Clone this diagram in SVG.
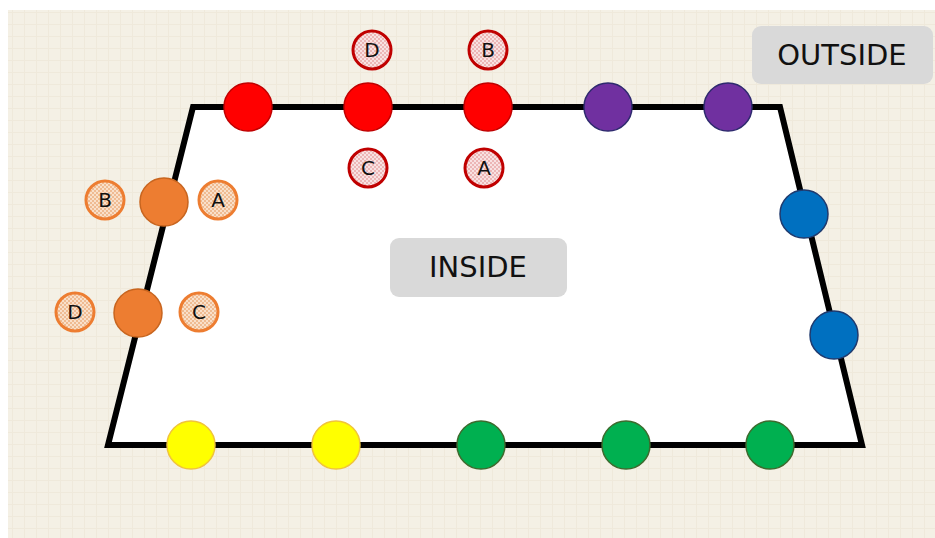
<svg xmlns="http://www.w3.org/2000/svg" width="935" height="538" viewBox="0 0 935 538">
  <defs>
    <!-- faint squared paper -->
    <pattern id="paper" width="12" height="12" patternUnits="userSpaceOnUse">
      <rect width="12" height="12" fill="#f4f0e5"/>
      <path d="M0 0.5H12M0.5 0V12" stroke="#efe9db" stroke-width="1"/>
    </pattern>
    <!-- checkered fills for the lettered markers -->
    <pattern id="checkRed" width="4" height="4" patternUnits="userSpaceOnUse">
      <rect width="4" height="4" fill="#f8e2e2"/>
      <rect width="2" height="2" fill="#ecb6b6"/>
      <rect x="2" y="2" width="2" height="2" fill="#ecb6b6"/>
    </pattern>
    <pattern id="checkOrange" width="4" height="4" patternUnits="userSpaceOnUse">
      <rect width="4" height="4" fill="#f9e0ca"/>
      <rect width="2" height="2" fill="#efbb92"/>
      <rect x="2" y="2" width="2" height="2" fill="#efbb92"/>
    </pattern>
  </defs>
  <style>
    text { font-family: "DejaVu Sans", "Liberation Sans", sans-serif; fill: #111; text-anchor: middle; dominant-baseline: central; }
    .label { font-size: 29px; }
    .tag { font-size: 20px; }
    .box { fill: #d9d9d9; }
    .red { fill: #ff0000; stroke: #c00000; stroke-width: 1.5; }
    .purple { fill: #7030a0; stroke: #2e2a6e; stroke-width: 1.5; }
    .blue { fill: #0070c0; stroke: #1f3a6e; stroke-width: 1.5; }
    .orange { fill: #ed7d31; stroke: #c8651f; stroke-width: 1.5; }
    .yellow { fill: #ffff00; stroke: #f0c43a; stroke-width: 1.5; }
    .green { fill: #00b050; stroke: #3d6b2e; stroke-width: 1.5; }
    .tagRed { fill: url(#checkRed); stroke: #c00000; stroke-width: 3; }
    .tagOrange { fill: url(#checkOrange); stroke: #ed7d31; stroke-width: 3; }
  </style>

  <!-- page -->
  <rect width="935" height="538" fill="#ffffff"/>
  <rect x="8" y="10" width="927" height="528" fill="url(#paper)"/>

  <!-- room outline -->
  <polygon points="193,107 780,107 862,445 108,445" fill="#ffffff" stroke="#000000" stroke-width="6" stroke-linejoin="miter"/>

  <g id="outside">
    <rect class="box" x="752" y="26" width="181" height="58" rx="9"/>
    <text class="label" x="842" y="55">OUTSIDE</text>
  </g>
  <g id="inside">
    <rect class="box" x="390" y="238" width="177" height="59" rx="9"/>
    <text class="label" x="478" y="267">INSIDE</text>
  </g>

  <!-- top wall -->
  <g id="red1"><circle class="red" cx="248" cy="107" r="24"/></g>
  <g id="red2"><circle class="red" cx="368" cy="107" r="24"/></g>
  <g id="red3"><circle class="red" cx="488" cy="107" r="24"/></g>
  <g id="purple1"><circle class="purple" cx="608" cy="107" r="24"/></g>
  <g id="purple2"><circle class="purple" cx="728" cy="107" r="24"/></g>

  <!-- right wall -->
  <g id="blue1"><circle class="blue" cx="804" cy="214" r="24"/></g>
  <g id="blue2"><circle class="blue" cx="834" cy="335" r="24"/></g>

  <!-- left wall -->
  <g id="orange1"><circle class="orange" cx="164" cy="202" r="24"/></g>
  <g id="orange2"><circle class="orange" cx="138" cy="313" r="24"/></g>

  <!-- bottom wall -->
  <g id="yellow1"><circle class="yellow" cx="191" cy="445" r="24"/></g>
  <g id="yellow2"><circle class="yellow" cx="336" cy="445" r="24"/></g>
  <g id="green1"><circle class="green" cx="481" cy="445" r="24"/></g>
  <g id="green2"><circle class="green" cx="626" cy="445" r="24"/></g>
  <g id="green3"><circle class="green" cx="770" cy="445" r="24"/></g>

  <!-- lettered markers around the red doors -->
  <g id="redD"><circle class="tagRed" cx="372" cy="50" r="19"/><text class="tag" x="372" y="50">D</text></g>
  <g id="redB"><circle class="tagRed" cx="488" cy="50" r="19"/><text class="tag" x="488" y="50">B</text></g>
  <g id="redC"><circle class="tagRed" cx="368" cy="168" r="19"/><text class="tag" x="368" y="168">C</text></g>
  <g id="redA"><circle class="tagRed" cx="484" cy="168" r="19"/><text class="tag" x="484" y="168">A</text></g>

  <!-- lettered markers around the orange doors -->
  <g id="orangeB"><circle class="tagOrange" cx="105" cy="200" r="19"/><text class="tag" x="105" y="200">B</text></g>
  <g id="orangeA"><circle class="tagOrange" cx="218" cy="200" r="19"/><text class="tag" x="218" y="200">A</text></g>
  <g id="orangeD"><circle class="tagOrange" cx="75" cy="312" r="19"/><text class="tag" x="75" y="312">D</text></g>
  <g id="orangeC"><circle class="tagOrange" cx="199" cy="312" r="19"/><text class="tag" x="199" y="312">C</text></g>

  <!-- no connectors in this drawing -->
  <g id="connectors"/>
</svg>
